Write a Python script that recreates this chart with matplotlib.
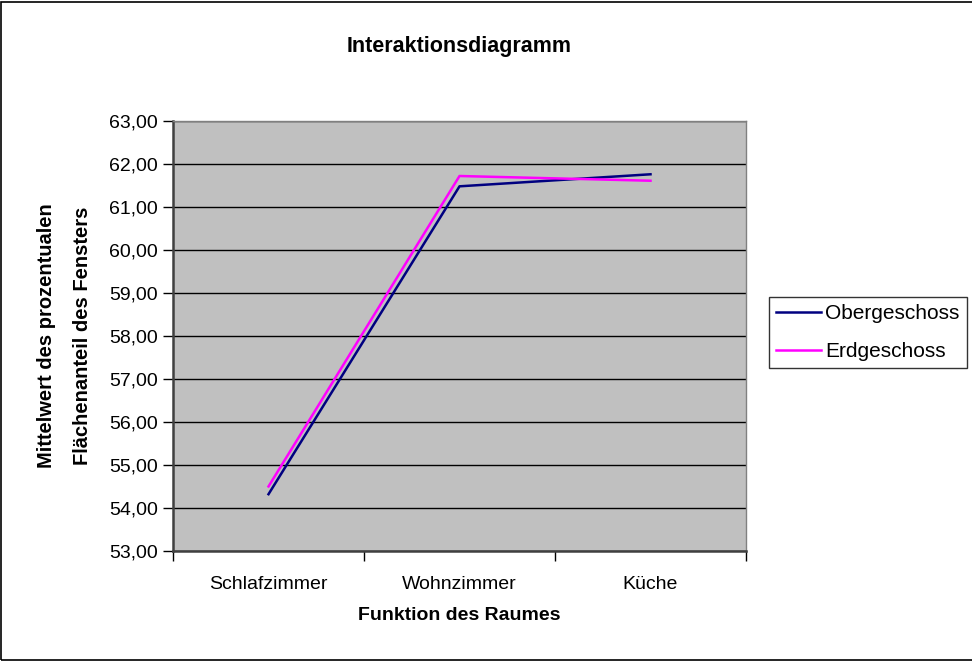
import matplotlib.pyplot as plt
from matplotlib.patches import Rectangle
from matplotlib.ticker import FixedLocator, FuncFormatter

plt.rcParams['font.family'] = ['Liberation Sans', 'DejaVu Sans']

kategorien = ['Schlafzimmer', 'Wohnzimmer', 'Küche']
obergeschoss = [54.32, 61.48, 61.76]
erdgeschoss = [54.50, 61.72, 61.61]
y_ticks = [53, 54, 55, 56, 57, 58, 59, 60, 61, 62, 63]

fig = plt.figure(figsize=(9.72, 6.61), dpi=100)
fig.patches.append(Rectangle((0.0015, 0.002), 1.2, 0.995, transform=fig.transFigure,
                             fill=False, edgecolor='black', linewidth=1.2))

ax = fig.add_axes([0.178, 0.1665, 0.5895, 0.6505])
ax.set_facecolor('#c0c0c0')

x = list(range(len(kategorien)))
ax.plot(x, obergeschoss, color='#000080', linewidth=1.8, label='Obergeschoss')
ax.plot(x, erdgeschoss, color='#ff00ff', linewidth=1.8, label='Erdgeschoss')

ax.set_xlim(-0.5, 2.5)
ax.set_ylim(53, 63)
ax.set_yticks(y_ticks)
ax.yaxis.set_major_formatter(FuncFormatter(lambda v, p: f'{v:.2f}'.replace('.', ',')))
ax.yaxis.grid(True, color='black', linewidth=1)
ax.set_axisbelow(True)

ax.set_xticks(x)
ax.set_xticklabels(kategorien)
ax.xaxis.set_minor_locator(FixedLocator([-0.5, 0.5, 1.5, 2.5]))
ax.tick_params(axis='x', which='major', length=0, pad=18, labelsize=14)
ax.tick_params(axis='x', which='minor', length=7, width=1, color='black')
ax.tick_params(axis='y', length=7, width=1, color='black', labelsize=14, pad=4)

for s in ['left', 'bottom']:
    ax.spines[s].set_color('#404040')
    ax.spines[s].set_linewidth(1.8)
for s in ['top', 'right']:
    ax.spines[s].set_color('#808080')
    ax.spines[s].set_linewidth(1)

ax.set_title('Interaktionsdiagramm', fontsize=15.5, fontweight='bold', pad=50)
ax.set_xlabel('Funktion des Raumes', fontsize=14, fontweight='bold', labelpad=10)
ax.set_ylabel('Mittelwert des prozentualen\nFlächenanteil des Fensters', fontsize=14.5,
              fontweight='bold', labelpad=12, linespacing=2.15)

leg = ax.legend(loc='upper left', bbox_to_anchor=(0.791, 0.551), bbox_transform=fig.transFigure,
                fontsize=15, frameon=True, fancybox=False, edgecolor='black',
                handlelength=2.15, handletextpad=0.2, labelspacing=0.9, borderpad=0.35,
                borderaxespad=0)
leg.get_frame().set_linewidth(1)

fig.savefig('out.png', dpi=100)
